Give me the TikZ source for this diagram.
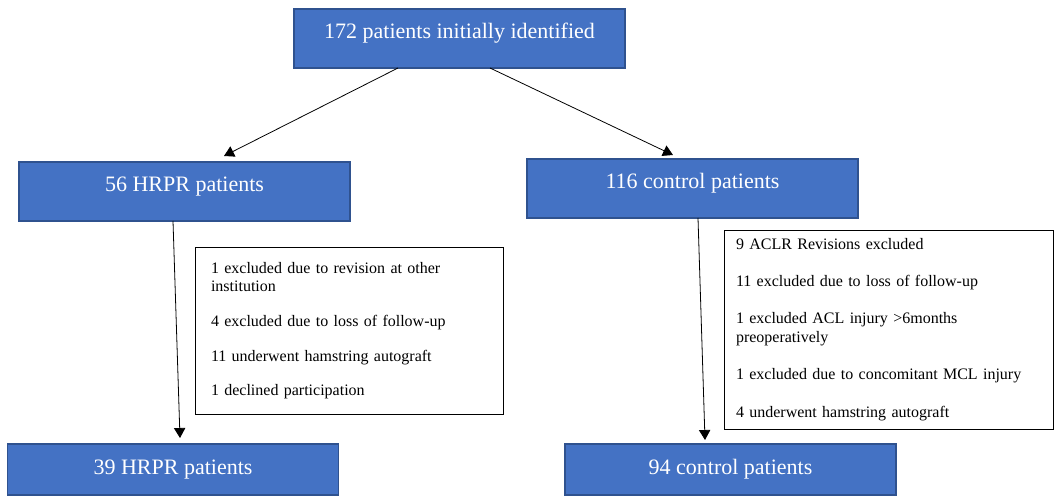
\documentclass[tikz,border=0pt]{standalone}
\usepackage{fontspec}
\setmainfont{Liberation Serif}
\usetikzlibrary{arrows.meta,calc}
\definecolor{boxblue}{HTML}{4472C4}
\definecolor{boxedge}{HTML}{2F528F}
\tikzset{
  countbox/.style={draw=boxedge, line width=0.9pt, fill=boxblue, text=white,
    minimum width=248.25pt, minimum height=44.25pt, inner sep=0pt, outer sep=0pt,
    text height=10pt, text depth=10pt, font=\fontsize{16.5}{20}\selectfont},
  lowbox/.style={countbox, minimum height=38.25pt, text height=12pt, text depth=4.6pt},
  exclbox/.style={draw=black, line width=0.6pt, fill=white, align=left,
    inner ysep=0pt, outer sep=0pt, font=\fontsize{12}{14}\selectfont},
  flow/.style={-{Triangle[width=8.5pt,length=7.5pt]}, line width=0.6pt}
}

\begin{document}
\begin{tikzpicture}[x=0.75pt, y=0.75pt]
        \useasboundingbox (0,0) rectangle (1056,496);

        % Patient counts
        \node[countbox] (start) at (459.5,457.5) {172 patients initially identified};
        \node[countbox] (hrprA) at (184.5,304.5) {56 HRPR patients};
        \node[countbox] (ctrlA) at (692.5,307.5) {116 control patients};
        \node[lowbox] (hrprB) at (173,26.5) {39 HRPR patients};
        \node[lowbox] (ctrlB) at (730.5,26.5) {94 control patients};

        % Exclusions
        \node[exclbox, inner xsep=12pt, text width=207pt, minimum height=125.25pt] (hrprExcl) at (349,165.5)
            {1 excluded due to revision at other\\ institution\\[12pt]
             4 excluded due to loss of follow-up\\[12pt]
             11 underwent hamstring autograft\\[12pt]
             1 declined participation};
        \node[exclbox, inner xsep=9pt, text width=228.75pt, minimum height=149.25pt] (ctrlExcl) at (888.5,166.5)
            {9 ACLR Revisions excluded\\[14pt]
             11 excluded due to loss of follow-up\\[14pt]
             1 excluded ACL injury >6months\\ preoperatively\\[14pt]
             1 excluded due to concomitant MCL injury\\[14pt]
             4 underwent hamstring autograft};

        % Arrows
        \draw[flow] ($(start.south)+(-61.5,0)$) -- ($(hrprA.north)+(39.5,6)$);
        \draw[flow] ($(start.south)+(30.5,0)$) -- ($(ctrlA.north)+(-19.5,4)$);
        \draw[flow] ($(hrprA.south)+(-11.5,0)$) -- ($(hrprB.north)+(7,6)$);
        \draw[flow] ($(ctrlA.south)+(5.5,0)$) -- ($(ctrlB.north)+(-25.5,4)$);
    \end{tikzpicture}
\end{document}
